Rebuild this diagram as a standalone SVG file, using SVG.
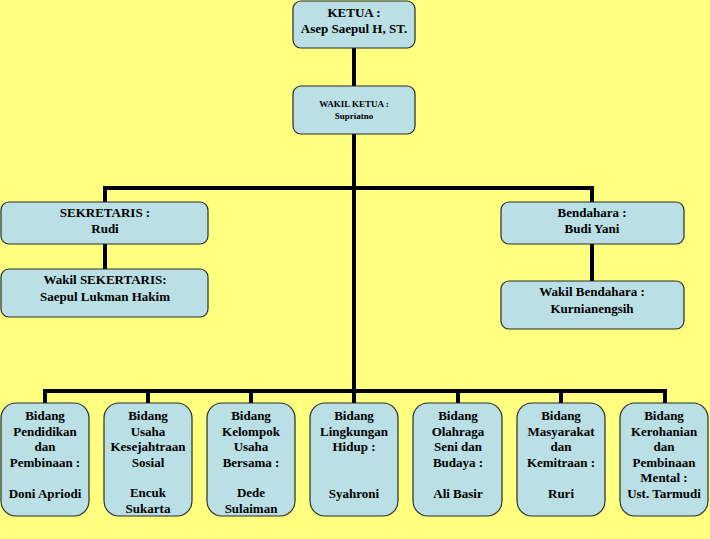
<svg xmlns="http://www.w3.org/2000/svg" width="710" height="539" viewBox="0 0 710 539">
<style>
.bx{fill:#BADFE5;stroke:#2a2a2a;stroke-width:1.2}
.ln{stroke:#000;stroke-width:4;fill:none}
text{font-family:"Liberation Serif","Times New Roman",serif;font-weight:bold;fill:#000;text-anchor:middle}
.t13{font-size:13px}
.t9{font-size:9px}
</style>
<rect x="0" y="0" width="710" height="539" fill="#FFFF80"/>
<g id="connectors">
<line class="ln" x1="354" y1="48" x2="354" y2="86"/>
<line class="ln" x1="354" y1="134" x2="354" y2="391"/>
<polyline class="ln" points="105,202 105,188 592,188 592,202"/>
<line class="ln" x1="105" y1="244" x2="105" y2="269"/>
<line class="ln" x1="592" y1="244" x2="592" y2="281"/>
<polyline class="ln" points="45,403 45,391 665,391 665,403"/>
<line class="ln" x1="148" y1="391" x2="148" y2="403"/>
<line class="ln" x1="251" y1="391" x2="251" y2="403"/>
<line class="ln" x1="354" y1="391" x2="354" y2="403"/>
<line class="ln" x1="458" y1="391" x2="458" y2="403"/>
<line class="ln" x1="561" y1="391" x2="561" y2="403"/>
</g>
<g id="ketua">
<rect class="bx" x="293" y="1" width="122" height="47" rx="8"/>
<text class="t13" x="354" y="17">KETUA :</text>
<text class="t13" x="354" y="33">Asep Saepul H, ST.</text>
</g>
<g id="wakil-ketua">
<rect class="bx" x="293" y="86" width="122" height="48" rx="8"/>
<text class="t9" x="354" y="107">WAKIL KETUA :</text>
<text class="t9" x="354" y="119">Supriatno</text>
</g>
<g id="sekretaris">
<rect class="bx" x="1" y="202" width="207" height="42" rx="8"/>
<text class="t13" x="105" y="217">SEKRETARIS :</text>
<text class="t13" x="105" y="233">Rudi</text>
</g>
<g id="wakil-sekertaris">
<rect class="bx" x="1" y="269" width="207" height="48" rx="8"/>
<text class="t13" x="105" y="284">Wakil SEKERTARIS:</text>
<text class="t13" x="105" y="301">Saepul Lukman Hakim</text>
</g>
<g id="bendahara">
<rect class="bx" x="501" y="202" width="183" height="42" rx="8"/>
<text class="t13" x="592" y="217">Bendahara :</text>
<text class="t13" x="592" y="233">Budi Yani</text>
</g>
<g id="wakil-bendahara">
<rect class="bx" x="501" y="281" width="183" height="48" rx="8"/>
<text class="t13" x="592" y="296">Wakil Bendahara :</text>
<text class="t13" x="592" y="313">Kurnianengsih</text>
</g>
<g id="bidang-pendidikan">
<rect class="bx" x="1" y="403" width="88" height="113" rx="15"/>
<text class="t13" x="45" y="420">Bidang</text>
<text class="t13" x="45" y="435.5">Pendidikan</text>
<text class="t13" x="45" y="451">dan</text>
<text class="t13" x="45" y="466.5">Pembinaan :</text>
<text class="t13" x="45" y="497.5">Doni Apriodi</text>
</g>
<g id="bidang-usaha">
<rect class="bx" x="104" y="403" width="88" height="113" rx="15"/>
<text class="t13" x="148" y="420">Bidang</text>
<text class="t13" x="148" y="435.5">Usaha</text>
<text class="t13" x="148" y="451">Kesejahtraan</text>
<text class="t13" x="148" y="466.5">Sosial</text>
<text class="t13" x="148" y="497">Encuk</text>
<text class="t13" x="148" y="512.5">Sukarta</text>
</g>
<g id="bidang-kelompok">
<rect class="bx" x="207" y="403" width="88" height="113" rx="15"/>
<text class="t13" x="251" y="420">Bidang</text>
<text class="t13" x="251" y="435.5">Kelompok</text>
<text class="t13" x="251" y="451">Usaha</text>
<text class="t13" x="251" y="466.5">Bersama :</text>
<text class="t13" x="251" y="497">Dede</text>
<text class="t13" x="251" y="512.5">Sulaiman</text>
</g>
<g id="bidang-lingkungan">
<rect class="bx" x="310" y="403" width="88" height="113" rx="15"/>
<text class="t13" x="354" y="420">Bidang</text>
<text class="t13" x="354" y="435.5">Lingkungan</text>
<text class="t13" x="354" y="451">Hidup :</text>
<text class="t13" x="354" y="497.5">Syahroni</text>
</g>
<g id="bidang-olahraga">
<rect class="bx" x="413" y="403" width="89" height="113" rx="15"/>
<text class="t13" x="458" y="420">Bidang</text>
<text class="t13" x="458" y="435.5">Olahraga</text>
<text class="t13" x="458" y="451">Seni dan</text>
<text class="t13" x="458" y="466.5">Budaya :</text>
<text class="t13" x="458" y="497.5">Ali Basir</text>
</g>
<g id="bidang-masyarakat">
<rect class="bx" x="517" y="403" width="88" height="113" rx="15"/>
<text class="t13" x="561" y="420">Bidang</text>
<text class="t13" x="561" y="435.5">Masyarakat</text>
<text class="t13" x="561" y="451">dan</text>
<text class="t13" x="561" y="466.5">Kemitraan :</text>
<text class="t13" x="561" y="497.5">Ruri</text>
</g>
<g id="bidang-kerohanian">
<rect class="bx" x="620" y="403" width="88" height="113" rx="15"/>
<text class="t13" x="664" y="420">Bidang</text>
<text class="t13" x="664" y="435.5">Kerohanian</text>
<text class="t13" x="664" y="451">dan</text>
<text class="t13" x="664" y="466.5">Pembinaan</text>
<text class="t13" x="664" y="482">Mental :</text>
<text class="t13" x="664" y="497.5">Ust. Tarmudi</text>
</g>
</svg>
